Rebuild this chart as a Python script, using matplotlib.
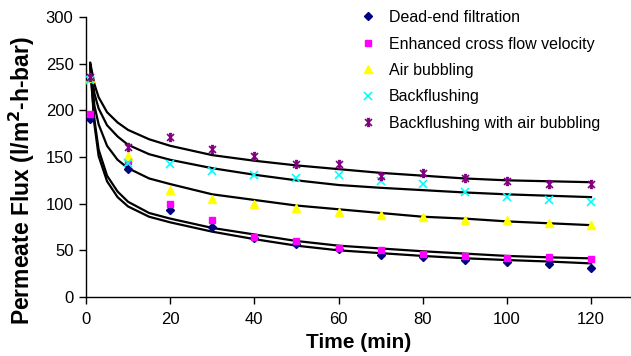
import numpy as np
import matplotlib
matplotlib.use('Agg')
import matplotlib.pyplot as plt
from matplotlib.path import Path

plt.rcParams['font.family'] = 'Liberation Sans'

# measured permeate flux (l/m2-h-bar) at sampling times (min)
t_meas = [1, 10, 20, 30, 40, 50, 60, 70, 80, 90, 100, 110, 120]
dead_end = [191, 137, 93, 75, 63, 57, 51, 45, 42.5, 40, 37, 35, 31.5]
cross_flow = [196, 146, 100, 82, 64, 60, 53, 50, 46, 44, 42, 43, 40.5]
air_bubbling = [235, 151, 115, 105, 100, 95, 91.5, 88, 85.5, 83, 82.5, 79, 77]
backflush = [233, 144, 143, 135, 131, 128, 131, 124, 121, 112, 107, 104, 102]
backflush_air = [236, 161, 171, 159, 151, 142.5, 142.5, 130, 132.5, 127, 124, 121, 121]

# model curves
t_fit = [1, 2, 3, 5, 7.5, 10, 15, 20, 30, 40, 50, 60, 70, 80, 90, 100, 110, 120]
fit_backflush_air = [251, 228, 214, 198, 187, 179, 169, 162, 152, 146, 141, 137, 133, 130, 127, 125, 124, 123]
fit_backflush = [250, 218, 202, 184, 172, 163, 153, 147, 138, 131, 125, 120, 117, 114.5, 112, 110, 108.5, 107]
fit_air = [249, 205, 185, 162, 147, 138, 127, 121, 110, 104, 98, 94, 90, 86, 84, 81, 79, 77]
fit_cross_flow = [248, 190, 158, 130, 113, 102, 90, 84, 74, 67, 60, 55, 52, 49, 46.5, 44, 42.5, 41.4]
fit_dead_end = [247, 185, 151, 124, 107, 97, 86, 80, 70, 62, 55, 50, 47, 44, 41.5, 39.6, 38, 36]

labels = ["Dead-end filtration", "Enhanced cross flow velocity", "Air bubbling",
          "Backflushing", "Backflushing with air bubbling"]

# excel style star marker: x with a vertical bar and caps
star = Path([(-1, -1), (1, 1), (-1, 1), (1, -1), (0, -1.1), (0, 1.1),
             (-0.45, 1.1), (0.45, 1.1), (-0.45, -1.1), (0.45, -1.1)],
            [Path.MOVETO, Path.LINETO] * 5)

W, H = 631, 356
fig = plt.figure(figsize=(W / 100, H / 100), dpi=100)
ax = fig.add_axes([86 / W, 1 - 297 / H, 545 / W, 280 / H])

for fit in [fit_backflush_air, fit_backflush, fit_air, fit_cross_flow, fit_dead_end]:
    ax.plot(t_fit, fit, color='black', linewidth=1.6, zorder=2)

series = [
    (dead_end, 'D', '#000080', 4.5, None),
    (cross_flow, 's', '#ff00ff', 4.5, None),
    (air_bubbling, '^', '#ffff00', 5.5, None),
    (backflush, 'x', '#00ffff', 5.5, 1.2),
    (backflush_air, star, '#800080', 5.5, 1.2),
]
for (vals, mk, col, ms, mew), lab in zip(series, labels):
    ax.plot(t_meas, vals, linestyle='none', marker=mk, color=col, markersize=ms,
            markeredgewidth=mew if mew else 1.0, label=lab, zorder=3)

ax.set_xlim(0, 129.5)
ax.set_ylim(0, 300)
ax.set_xticks(np.arange(0, 121, 20))
ax.set_yticks(np.arange(0, 301, 50))
ax.spines['top'].set_visible(False)
ax.spines['right'].set_visible(False)
for s in ['left', 'bottom']:
    ax.spines[s].set_linewidth(1.0)
ax.tick_params(axis='both', direction='out', length=5, width=1.0, labelsize=12)
ax.tick_params(axis='x', pad=6)
ax.tick_params(axis='y', pad=4)

fig.text(359 / W, 1 - 342 / H, "Time (min)", ha='center', va='center',
         fontsize=15, fontweight='bold')
fig.text(22 / W, 1 - 181 / H, "Permeate Flux (l/m$^\\mathbf{2}$-h-bar)", ha='center',
         va='center', rotation=90, fontsize=16.5, fontweight='bold')

ax.legend(loc='upper left', bbox_to_anchor=(360 / W, 1 - 10 / H),
          bbox_transform=fig.transFigure, frameon=False, fontsize=11.5,
          handlelength=1.0, handletextpad=0.8, labelspacing=0.72,
          borderaxespad=0, borderpad=0)

fig.savefig('out.png', dpi=100)
